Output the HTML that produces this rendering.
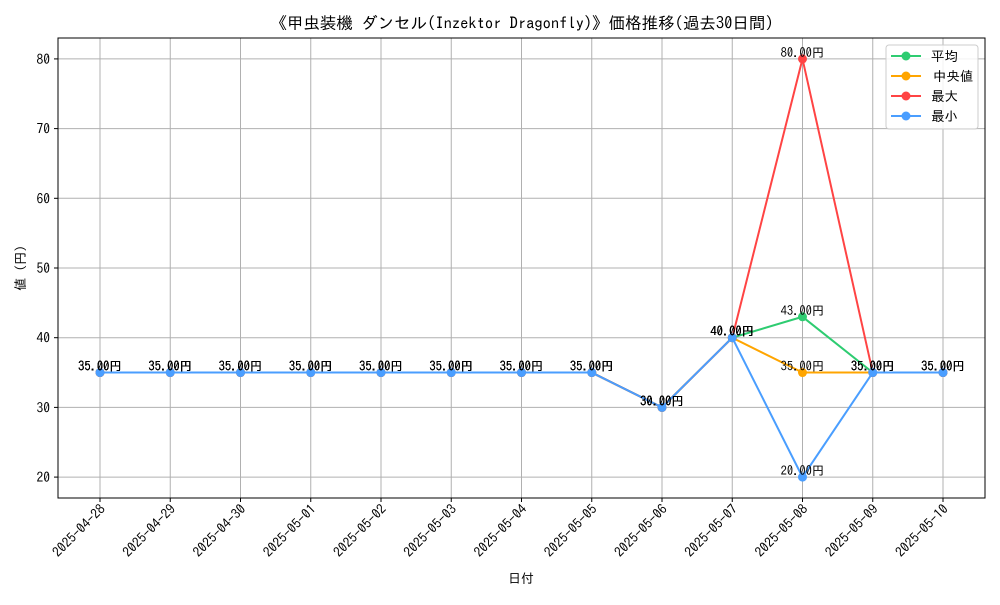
<!DOCTYPE html>
<html><head><meta charset="utf-8">
<style>
body{margin:0;background:#fff;}
svg text{font-family:"IPAGothic","Liberation Sans","Noto Sans CJK JP",sans-serif;fill:#000;}
</style></head>
<body>
<svg id="chart" width="1000" height="600" viewBox="0 0 1000 600">
<rect width="1000" height="600" fill="#fff"/>
<text x="522" y="29" font-size="16.5" text-anchor="middle">《甲虫装機 ダンセル(Inzektor Dragonfly)》価格推移(過去30日間)</text>
<g id="grid"></g>
<g id="axes"></g>
<g id="series"></g>
<g id="labels"></g>
<rect x="58" y="38" width="927" height="460" fill="none" stroke="#000" stroke-width="1"/>
<text x="521" y="583" font-size="13" text-anchor="middle">日付</text>
<text transform="translate(25,268) rotate(-90)" font-size="13" text-anchor="middle">値 (円)</text>
<g id="legend"></g>
</svg>
<script>
const dates=["2025-04-28","2025-04-29","2025-04-30","2025-05-01","2025-05-02","2025-05-03","2025-05-04","2025-05-05","2025-05-06","2025-05-07","2025-05-08","2025-05-09","2025-05-10"];
const avgVals=[35,35,35,35,35,35,35,35,30,40,43,35,35];
const medVals=[35,35,35,35,35,35,35,35,30,40,35,35,35];
const maxVals=[35,35,35,35,35,35,35,35,30,40,80,35,35];
const minVals=[35,35,35,35,35,35,35,35,30,40,20,35,35];
const yTicks=[20,30,40,50,60,70,80];
const seriesNames=["平均","中央値","最大","最小"];
const ns="http://www.w3.org/2000/svg";
const L=58,R=985,T=38,B=498,yMin=17,yMax=83;
const x0=100,x1=943;
function xs(i){return x0+(x1-x0)*i/(dates.length-1);}
function ys(v){return B-(v-yMin)/(yMax-yMin)*(B-T);}
function mk(tag,attrs,parent){const e=document.createElementNS(ns,tag);for(const k in attrs)e.setAttribute(k,attrs[k]);parent.appendChild(e);return e;}
const grid=document.getElementById('grid'),axes=document.getElementById('axes');
yTicks.forEach(v=>{
  const g=mk('line',{x1:L,x2:R,y1:ys(v),y2:ys(v),stroke:'#b0b0b0','stroke-width':1},grid);
  
  
  mk('line',{x1:L-4,x2:L,y1:ys(v),y2:ys(v),stroke:'#000'},axes);
  const t=mk('text',{x:L-8,y:ys(v)+5,'font-size':13.5,'text-anchor':'end'},axes);
  t.textContent=v;
  
  
});
dates.forEach((d,i)=>{
  const g=mk('line',{x1:xs(i),x2:xs(i),y1:T,y2:B,stroke:'#b0b0b0','stroke-width':1},grid);
  
  
  mk('line',{x1:xs(i),x2:xs(i),y1:B,y2:B+4,stroke:'#000'},axes);
  const t=mk('text',{x:0,y:0,'font-size':13.5,'text-anchor':'end',transform:`translate(${xs(i)+6},${B+12}) rotate(-45)`},axes);
  t.textContent=d;
  
  
});
const all=[avgVals,medVals,maxVals,minVals];
const colors=["#2ecc71","#ffa500","#ff4444","#4a9eff"];
const keys=["avg","median","max","min"];
const sg=document.getElementById('series'),lg=document.getElementById('labels');
all.forEach((vals,s)=>{
  const p=mk('polyline',{points:vals.map((v,i)=>xs(i)+','+ys(v)).join(' '),fill:'none',stroke:colors[s],'stroke-width':2},sg);
  
  
  vals.forEach((v,i)=>{
    const c=mk('circle',{cx:xs(i),cy:ys(v),r:4.5,fill:colors[s]},sg);
    
    
    const t=mk('text',{x:xs(i),y:ys(v)-2,'font-size':12.5,'text-anchor':'middle'},lg);
    t.textContent=v.toFixed(2)+'円';
    
    
  });
});
const leg=document.getElementById('legend');
const lb=mk('rect',{x:886,y:45,width:92,height:84,rx:3,fill:'#fff','fill-opacity':0.85,stroke:'#ccc'},leg);


seriesNames.forEach((n,s)=>{
  const y=56+s*20;
  const l=mk('line',{x1:891,x2:921,y1:y,y2:y,stroke:colors[s],'stroke-width':2},leg);
  
  
  const c=mk('circle',{cx:906,cy:y,r:4.5,fill:colors[s]},leg);
  
  
  const t=mk('text',{x:s==1?933:931,y:y+5,'font-size':13.5},leg);
  t.textContent=n;
  
  
});
</script>
</body></html>
